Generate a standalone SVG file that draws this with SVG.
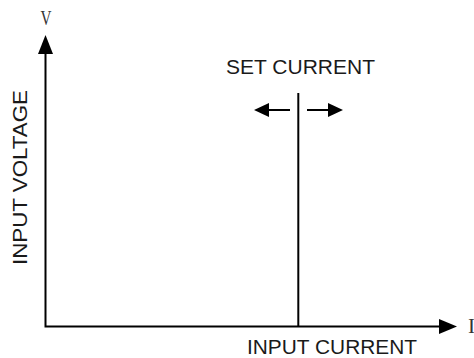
<svg xmlns="http://www.w3.org/2000/svg" width="474" height="358" viewBox="0 0 474 358">
<style>
.ax{stroke:#000;stroke-width:2;fill:none}
.lbl{font-family:"Liberation Sans",Arial,sans-serif;font-size:20px;fill:#1a1a1a}
.ser{font-family:"Liberation Serif","Times New Roman",serif;font-size:21px;fill:#333}
.head{fill:#000}
</style>
<rect width="474" height="358" fill="#fff"/>
<g id="connectors">
<path class="ax" d="M45.5,52 V326.5 H442"/>
<polygon class="head" points="45.5,35 38,54 53,54"/>
<polygon class="head" points="457,326.5 439,319 439,334"/>
<line class="ax" x1="298.3" y1="93" x2="298.3" y2="326.5"/>
<line class="ax" x1="290" y1="110" x2="266" y2="110"/>
<polygon class="head" points="254,110 269,103 269,117"/>
<line class="ax" x1="307" y1="110" x2="330" y2="110"/>
<polygon class="head" points="343,110 328,103 328,117"/>
</g>
<g id="label-v"><text class="ser" x="40.5" y="25" textLength="11" lengthAdjust="spacingAndGlyphs">V</text></g>
<g id="label-i"><text class="ser" x="468" y="333">I</text></g>
<g id="label-set"><text class="lbl" x="226" y="74" textLength="149" lengthAdjust="spacingAndGlyphs">SET CURRENT</text></g>
<g id="label-input-current"><text class="lbl" x="247" y="354" textLength="170" lengthAdjust="spacingAndGlyphs">INPUT CURRENT</text></g>
<g id="label-input-voltage"><text class="lbl" transform="translate(27,265) rotate(-90)" textLength="175" lengthAdjust="spacingAndGlyphs">INPUT VOLTAGE</text></g>
</svg>
